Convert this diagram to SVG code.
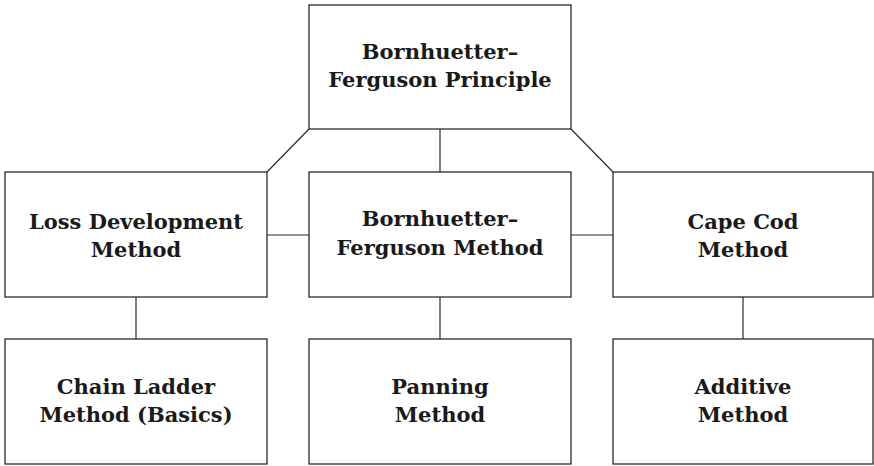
<svg xmlns="http://www.w3.org/2000/svg" width="874" height="466" viewBox="0 0 874 466">
<style>
.box{fill:#ffffff;stroke:#2a2a2a;stroke-width:1.3}
.lbl{font-family:"DejaVu Serif","Liberation Serif",serif;font-weight:bold;font-size:21px;fill:#1a1a1a;text-anchor:middle}
.conn line{stroke:#2a2a2a;stroke-width:1.2}
</style>
<rect width="874" height="466" fill="#ffffff"/>
<g id="connectors" class="conn">
<line x1="309" y1="129" x2="267" y2="172"/>
<line x1="571" y1="129" x2="613" y2="172"/>
<line x1="440" y1="129" x2="440" y2="172"/>
<line x1="267" y1="235" x2="309" y2="235"/>
<line x1="571" y1="235" x2="613" y2="235"/>
<line x1="136" y1="297" x2="136" y2="339"/>
<line x1="440" y1="297" x2="440" y2="339"/>
<line x1="743" y1="297" x2="743" y2="339"/>
</g>
<g id="bf-principle">
<rect class="box" x="309" y="5" width="262" height="124"/>
<text class="lbl" x="440" y="59">Bornhuetter–</text>
<text class="lbl" x="440" y="87">Ferguson Principle</text>
</g>
<g id="loss-development">
<rect class="box" x="5" y="172" width="262" height="125"/>
<text class="lbl" x="136" y="229">Loss Development</text>
<text class="lbl" x="136" y="257">Method</text>
</g>
<g id="bf-method">
<rect class="box" x="309" y="172" width="262" height="125"/>
<text class="lbl" x="440" y="226">Bornhuetter–</text>
<text class="lbl" x="440" y="255">Ferguson Method</text>
</g>
<g id="cape-cod">
<rect class="box" x="613" y="172" width="260" height="125"/>
<text class="lbl" x="743" y="229">Cape Cod</text>
<text class="lbl" x="743" y="257">Method</text>
</g>
<g id="chain-ladder">
<rect class="box" x="5" y="339" width="262" height="125"/>
<text class="lbl" x="136" y="394">Chain Ladder</text>
<text class="lbl" x="136" y="422">Method (Basics)</text>
</g>
<g id="panning">
<rect class="box" x="309" y="339" width="262" height="125"/>
<text class="lbl" x="440" y="394">Panning</text>
<text class="lbl" x="440" y="422">Method</text>
</g>
<g id="additive">
<rect class="box" x="613" y="339" width="260" height="125"/>
<text class="lbl" x="743" y="394">Additive</text>
<text class="lbl" x="743" y="422">Method</text>
</g>
</svg>
